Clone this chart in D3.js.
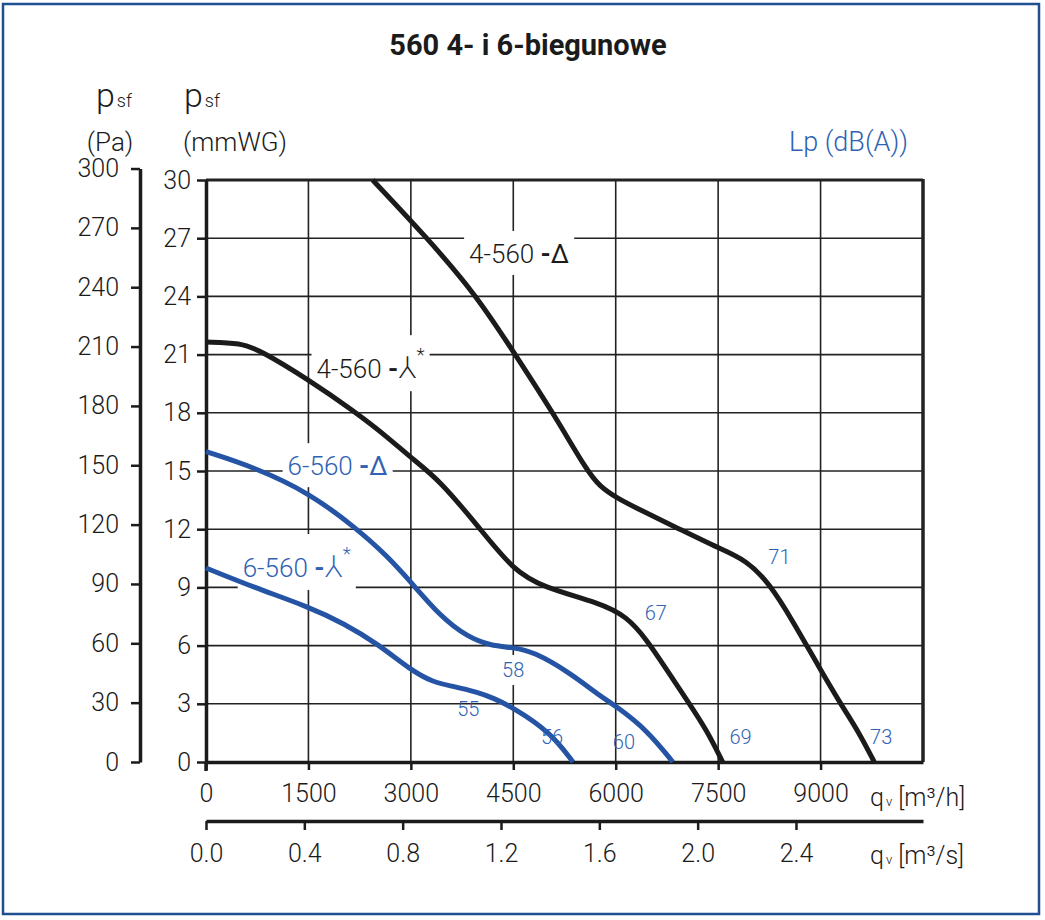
<!DOCTYPE html>
<html>
<head>
<meta charset="utf-8">
<script src="https://cdn.jsdelivr.net/npm/d3@7"></script>
<style>
  body { margin: 0; background: #fff; }
  svg { display: block; font-family: Roboto, "DejaVu Sans", sans-serif; }
</style>
</head>
<body>
<div id="chart"></div>
<script>
// przepływ q (m3/h) i ciśnienie p (mmWG)
const q4Delta = [2440, 3243, 3973, 4528, 5083, 5580, 5769, 6018, 6353, 6938, 7522, 7916, 8252, 8588, 8983, 9319, 9567, 9786];
const p4Delta = [30, 27, 24, 21, 18, 15, 14.2, 13.6, 13.0, 12.0, 11.0, 10.4, 9.2, 7.3, 4.85, 2.85, 1.5, 0];

const q4Star = [0, 511, 803, 1504, 2162, 2658, 2994, 3432, 4017, 4499, 4937, 5769, 6164, 6456, 6748, 7040, 7332, 7566];
const p4Star = [21.65, 21.6, 21.2, 19.7, 18.1, 16.75, 15.7, 14.5, 12.0, 9.9, 9.0, 8.2, 7.5, 6.3, 4.75, 3.2, 1.65, 0];

const q6Delta = [0, 701, 1504, 2220, 2658, 2994, 3432, 3827, 4163, 4499, 4790, 5331, 5769, 6018, 6456, 6836];
const p6Delta = [16.0, 15.2, 13.9, 12.0, 10.6, 9.3, 7.5, 6.45, 6.0, 5.9, 5.7, 4.6, 3.4, 2.85, 1.65, 0];

const q6Star = [0, 701, 1504, 2016, 2512, 2994, 3330, 3622, 3973, 4207, 4499, 5039, 5375];
const p6Star = [10.0, 9.0, 8.0, 7.15, 6.1, 4.75, 4.1, 3.9, 3.6, 3.3, 2.8, 1.55, 0];

// poziom hałasu Lp dB(A)
const lpText = ["55", "56", "58", "60", "67", "69", "71", "73"];
const lpQ = [3841, 5068, 4499, 6120, 6587, 7829, 8398, 9888];
const lpP = [2.73, 1.29, 4.74, 1.03, 7.68, 1.29, 10.57, 1.29];

// etykiety krzywych
const curveNames = ["4-560 -Δ", "4-560 -⅄", "6-560 -Δ", "6-560 -⅄"];
const curveStar = [false, true, false, true];
const curveLabelQ = [4586, 2410, 1928, 1329];
const curveLabelP = [26.24, 20.3, 15.3, 10.05];

const qTicks = [0, 1500, 3000, 4500, 6000, 7500, 9000];
const qsTicks = [0.0, 0.4, 0.8, 1.2, 1.6, 2.0, 2.4];
const mmTicks = [0, 3, 6, 9, 12, 15, 18, 21, 24, 27, 30];
const paTicks = [0, 30, 60, 90, 120, 150, 180, 210, 240, 270, 300];

const black = "#1b1b1b";
const blue = "#2554a4";
const blueText = "#2f62b3";

const width = 1045, height = 920;
const plotLeft = 206, plotRight = 923, plotTop = 180, plotBottom = 762;

const x = d3.scaleLinear().domain([0, 10500]).range([plotLeft, plotRight]);
const xs = d3.scaleLinear().domain([0, 10500 / 3600]).range([plotLeft, plotRight]);
const y = d3.scaleLinear().domain([0, 30]).range([plotBottom, plotTop]);
const yPa = d3.scaleLinear().domain([0, 300]).range([plotBottom, y(300 / 9.80665)]);

const svg = d3.select("#chart").append("svg")
    .attr("width", width)
    .attr("height", height);

svg.append("rect").attr("width", width).attr("height", height).attr("fill", "#fff");
svg.append("rect")
    .attr("x", 3).attr("y", 4).attr("width", 1036).attr("height", 910)
    .attr("fill", "none").attr("stroke", "#1f4f90").attr("stroke-width", 2.5);

svg.append("text")
    .attr("x", 528).attr("y", 55)
    .attr("text-anchor", "middle")
    .attr("font-size", 29).attr("font-weight", "bold").attr("fill", "#1b1b1b")
    .text("560 4- i 6-biegunowe");

// siatka
const grid = svg.append("g").attr("stroke", "#222").attr("stroke-width", 1.6);
grid.selectAll(".h").data(mmTicks.filter(d => d > 0 && d < 30)).join("line")
    .attr("x1", plotLeft).attr("x2", plotRight)
    .attr("y1", d => y(d)).attr("y2", d => y(d));
grid.selectAll(".v").data(qTicks.filter(d => d > 0)).join("line")
    .attr("y1", plotTop).attr("y2", plotBottom)
    .attr("x1", d => x(d)).attr("x2", d => x(d));
grid.append("line").attr("x1", plotLeft).attr("x2", plotRight).attr("y1", plotTop).attr("y2", plotTop).attr("stroke-width", 2.8);
grid.append("line").attr("x1", plotRight).attr("x2", plotRight).attr("y1", plotTop - 1).attr("y2", plotBottom).attr("stroke-width", 3.5);

function styleAxis(g, size) {
    g.attr("font-family", null).attr("font-size", size);
    g.select(".domain").attr("stroke", black).attr("stroke-width", 3.5);
    g.selectAll(".tick line").attr("stroke", black).attr("stroke-width", 2.5);
    g.selectAll(".tick text").attr("fill", black).attr("font-weight", 300);
}

// osie Y
svg.append("g")
    .attr("transform", `translate(${plotLeft},0)`)
    .call(d3.axisLeft(y).tickValues(mmTicks).tickSize(9).tickSizeOuter(0).tickPadding(6))
    .call(g => styleAxis(g, 25));
svg.append("line").attr("x1", plotLeft).attr("x2", plotLeft).attr("y1", plotBottom).attr("y2", plotBottom + 9)
    .attr("stroke", black).attr("stroke-width", 3.5);

svg.append("g")
    .attr("transform", "translate(140,0)")
    .call(d3.axisLeft(yPa).tickValues(paTicks).tickSize(9).tickSizeOuter(0).tickPadding(12))
    .call(g => styleAxis(g, 25));

// osie X
svg.append("g")
    .attr("transform", `translate(0,${plotBottom})`)
    .call(d3.axisBottom(x).tickValues(qTicks).tickSize(8).tickSizeOuter(0).tickPadding(14).tickFormat(d3.format("d")))
    .call(g => styleAxis(g, 25));

svg.append("g")
    .attr("transform", "translate(0,821)")
    .call(d3.axisBottom(xs).tickValues(qsTicks).tickSize(9).tickSizeOuter(0).tickPadding(14).tickFormat(d3.format(".1f")))
    .call(g => styleAxis(g, 25));

// opisy osi
function subLabel(xp, yp, main, sub, rest, size, subSize) {
    const t = svg.append("text").attr("x", xp).attr("y", yp)
        .attr("font-size", size).attr("font-weight", 300).attr("fill", black);
    t.append("tspan").text(main);
    t.append("tspan").attr("font-size", subSize).attr("dx", 2).text(sub);
    if (rest) t.append("tspan").attr("font-size", size).text(rest);
    return t;
}
subLabel(96, 107, "p", "sf", null, 34, 18);
subLabel(184, 107, "p", "sf", null, 34, 18);
svg.append("text").attr("x", 110).attr("y", 151).attr("text-anchor", "middle")
    .attr("font-size", 26).attr("font-weight", 300).attr("fill", black).text("(Pa)");
svg.append("text").attr("x", 183).attr("y", 151)
    .attr("font-size", 26).attr("font-weight", 300).attr("fill", black).text("(mmWG)");

subLabel(870, 806, "q", "v", " [m³/h]", 25, 13);
subLabel(870, 864, "q", "v", " [m³/s]", 25, 13);

svg.append("text").attr("x", 908).attr("y", 151).attr("text-anchor", "end")
    .attr("font-size", 27).attr("font-weight", 300).attr("fill", blueText).text("Lp (dB(A))");

// etykiety krzywych z białym tłem
const labels = svg.append("g");
curveNames.forEach((name, i) => {
    const color = i < 2 ? black : blueText;
    const g = labels.append("g");
    const t = g.append("text")
        .attr("x", x(curveLabelQ[i])).attr("y", y(curveLabelP[i]) + 10)
        .attr("text-anchor", "middle")
        .attr("font-size", 26).attr("font-weight", 300).attr("fill", color);
    const base = name.slice(0, -2);
    const sym = name.slice(-1);
    t.append("tspan").text(base);
    t.append("tspan").attr("font-weight", "bold").text("-");
    t.append("tspan").attr("font-weight", curveStar[i] ? 300 : 400)
        .attr("font-size", curveStar[i] ? 30 : 26).text(sym);
    if (curveStar[i]) t.append("tspan").attr("dy", -17).attr("font-size", 19).text("*");
    const b = t.node().getBBox();
    g.insert("rect", "text")
        .attr("x", b.x - 5).attr("y", b.y - 8)
        .attr("width", b.width + 10).attr("height", b.height + 14)
        .attr("fill", "#fff");
});

// krzywe
const line = d3.line()
    .x(d => x(d[0]))
    .y(d => y(d[1]))
    .curve(d3.curveBasis);

const curves = [
    { q: q4Delta, p: p4Delta, color: black },
    { q: q4Star, p: p4Star, color: black },
    { q: q6Delta, p: p6Delta, color: blue },
    { q: q6Star, p: p6Star, color: blue }
];

svg.append("g")
    .selectAll("path")
    .data(curves)
    .join("path")
    .attr("d", c => line(c.q.map((q, i) => [q, c.p[i]])))
    .attr("fill", "none")
    .attr("stroke", c => c.color)
    .attr("stroke-width", 5)
    .attr("stroke-linejoin", "round");

// wartości Lp
const lp = svg.append("g");
lpText.forEach((txt, i) => {
    const g = lp.append("g");
    const t = g.append("text")
        .attr("x", x(lpQ[i])).attr("y", y(lpP[i]) + 7)
        .attr("text-anchor", "middle")
        .attr("font-size", 20).attr("font-weight", 300).attr("fill", blueText)
        .text(txt);
    if (txt === "58") {
        const b = t.node().getBBox();
        g.insert("rect", "text")
            .attr("x", b.x - 2).attr("y", b.y - 3)
            .attr("width", b.width + 4).attr("height", b.height + 6)
            .attr("fill", "#fff");
    }
});
</script>
</body>
</html>
